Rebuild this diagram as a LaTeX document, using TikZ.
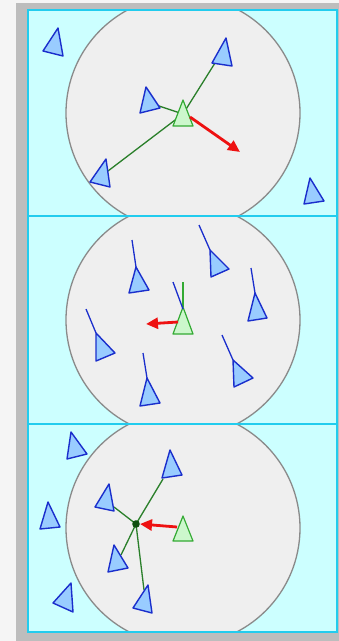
\documentclass[tikz,border=0pt]{standalone}
\usetikzlibrary{arrows.meta}
\definecolor{bgc}{HTML}{F5F5F5}
\definecolor{framec}{HTML}{BDBDBD}
\definecolor{panelfill}{HTML}{CCFFFF}
\definecolor{paneledge}{HTML}{22CCEE}
\definecolor{circfill}{HTML}{EFEFEF}
\definecolor{circedge}{HTML}{8A8A8A}
\definecolor{boidfill}{HTML}{99CCFF}
\definecolor{boidedge}{HTML}{1A2ECC}
\definecolor{selffill}{HTML}{CCF7CC}
\definecolor{selfedge}{HTML}{33AA33}
\definecolor{linkgreen}{HTML}{2A7F2A}
\definecolor{dotgreen}{HTML}{0F4F0F}
\definecolor{steer}{HTML}{EE1111}
\tikzset{
 boid/.style={fill=boidfill,draw=boidedge,line width=1.4pt,line join=round},
 selfboid/.style={fill=selffill,draw=selfedge,line width=1.2pt,line join=round},
 link/.style={draw=linkgreen,line width=1.3pt},
 heading/.style={draw=boidedge,line width=1.3pt},
 selfheading/.style={draw=selfedge,line width=1.3pt},
 steerarrow/.style={draw=steer,line width=2.8pt,-{Triangle[length=12pt,width=11pt]}},
 panel/.style={draw=paneledge,line width=1.8pt},
 zone/.style={fill=circfill,draw=circedge,line width=1.3pt},
}
\newcommand\boidtri[5][boid]{%
 \coordinate (#2-a) at (#3); \coordinate (#2-b) at (#4); \coordinate (#2-c) at (#5);
 \draw[#1] (#2-a) -- (#2-b) -- (#2-c) -- cycle;}
\begin{document}
\begin{tikzpicture}[x=1pt,y=-1pt]
\useasboundingbox (0,0) rectangle (339,641);
\fill[bgc] (0,0) rectangle (339,641);
\fill[framec] (16,3) rectangle (339,641);
% ---------- panels ----------
\foreach \top/\bot/\cy in {10/216/113,216/424/320,424/632/528}{
 \begin{scope}
  \clip (28,\top) rectangle (337,\bot);
  \fill[panelfill] (28,\top) rectangle (337,\bot);
  \draw[zone] (183,\cy) circle (117pt);
 \end{scope}
}
\foreach \top/\bot in {10/216,216/424,424/632}{ \draw[panel] (28,\top) rectangle (337,\bot); }
% ---------- panel 1: separation ----------
\coordinate (s1) at (183,114);
\coordinate (s1B) at (215,63);
\coordinate (s1C) at (159,106);
\coordinate (s1D) at (108,171);
\draw[link] (s1) -- (s1B);
\draw[link] (s1) -- (s1C);
\draw[link] (s1) -- (s1D);
\boidtri{p1a}{58,28}{43,51}{63,56}
\boidtri{p1b}{226,38}{212,63}{232,66}
\boidtri{p1c}{146,87}{140,113}{160,108}
\boidtri{p1d}{106,159}{90,182}{110,187}
\boidtri{p1e}{310,178}{304,204}{324,201}
\boidtri[selfboid]{g1}{183,100}{173,126}{193,126}
\coordinate (r1) at (190,117);
\coordinate (r1t) at (240,152);
\draw[steerarrow] (r1) -- (r1t);
% ---------- panel 2: alignment ----------
\coordinate (h1) at (132,240); \coordinate (h2) at (199,225);
\coordinate (h3) at (251,268); \coordinate (h4) at (86,309);
\coordinate (h5) at (143,353); \coordinate (h6) at (222,335);
\boidtri{p2a}{136,267}{129,293}{149,290}
\boidtri{p2b}{210,250}{211,277}{229,269}
\boidtri{p2c}{255,293}{248,321}{267,318}
\boidtri{p2d}{96,333}{96,361}{115,353}
\boidtri{p2e}{147,378}{140,406}{160,403}
\boidtri{p2f}{233,360}{234,387}{253,378}
\draw[heading] (h1) -- (p2a-a);
\draw[heading] (h2) -- (p2b-a);
\draw[heading] (h3) -- (p2c-a);
\draw[heading] (h4) -- (p2d-a);
\draw[heading] (h5) -- (p2e-a);
\draw[heading] (h6) -- (p2f-a);
\boidtri[selfboid]{g2}{183,307}{173,334}{193,334}
\coordinate (hg) at (183,282);
\coordinate (ha) at (173,282);
\coordinate (haend) at (183,309);
\draw[selfheading] (hg) -- (g2-a);
\draw[heading] (ha) -- (haend);
\coordinate (r2) at (178,322);
\coordinate (r2t) at (146,324);
\draw[steerarrow] (r2) -- (r2t);
% ---------- panel 3: cohesion ----------
\coordinate (ctr) at (136,524);
\coordinate (c3b) at (163,479);
\coordinate (c3c) at (114,507);
\coordinate (c3e) at (121,555);
\coordinate (c3g) at (144,590);
\draw[link] (ctr) -- (c3b);
\draw[link] (ctr) -- (c3c);
\draw[link] (ctr) -- (c3e);
\draw[link] (ctr) -- (c3g);
\boidtri{p3a}{71,432}{67,459}{87,454}
\boidtri{p3b}{170,450}{162,478}{182,475}
\boidtri{p3c}{109,484}{95,507}{114,511}
\boidtri{p3d}{48,502}{40,529}{60,527}
\boidtri{p3e}{114,545}{108,572}{128,568}
\boidtri{p3f}{71,583}{53,603}{73,612}
\boidtri{p3g}{148,585}{133,608}{152,613}
\boidtri[selfboid]{g3}{183,516}{173,541}{193,541}
\fill[dotgreen] (ctr) circle (3.8pt);
\coordinate (r3) at (177,527);
\coordinate (r3t) at (140,524);
\draw[steerarrow] (r3) -- (r3t);
\end{tikzpicture}
\end{document}
